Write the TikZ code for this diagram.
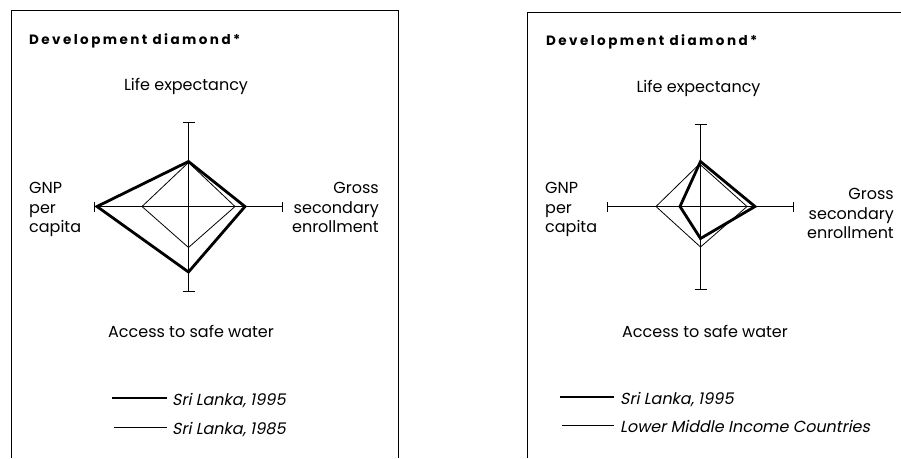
\documentclass[tikz,border=0pt]{standalone}
\usepackage{fontspec}
\setmainfont{Poppins}
\newfontfamily\titlefont{Poppins}[LetterSpace=18]
\newfontfamily\legfont{Poppins}[FakeSlant=0.2]
\begin{document}
\begin{tikzpicture}[x=1pt,y=-1pt,
  frame/.style={line width=0.9pt,black},
  axis/.style={line width=0.8pt,black},
  thickline/.style={line width=2.8pt,line join=miter,black},
  thinline/.style={line width=0.8pt,line join=miter,black},
  title/.style={anchor=base west,inner sep=0pt,font=\titlefont\bfseries\fontsize{13.5}{16}\selectfont},
  lab/.style={inner sep=0pt,font=\fontsize{16}{19}\selectfont},
  leg/.style={anchor=base west,inner sep=0pt,font=\legfont\fontsize{16}{19}\selectfont}]
\useasboundingbox (0,0) rectangle (901,458);
% frames
\coordinate (f1a) at (11,458); \coordinate (f1b) at (11,10);
\coordinate (f1c) at (398,10); \coordinate (f1d) at (398,458);
\draw[frame] (f1a) -- (f1b) -- (f1c) -- (f1d);
\coordinate (f2a) at (527,458); \coordinate (f2b) at (527,12);
\coordinate (f2c) at (901,12);
\draw[frame] (f2a) -- (f2b) -- (f2c);

% ===== left panel =====
\node[title] (t1) at (29,44) {Development diamond*};
\node[lab,anchor=base] (le1) at (186,90) {Life expectancy};
\node[lab,anchor=base west] (g1a) at (29,193) {GNP};
\node[lab,anchor=base west] (g1b) at (29,213) {per};
\node[lab,anchor=base west] (g1c) at (29,232) {capita};
\node[lab,anchor=base east] (s1a) at (379,193) {Gross};
\node[lab,anchor=base east] (s1b) at (379,213) {secondary};
\node[lab,anchor=base east] (s1c) at (379,232) {enrollment};
\node[lab,anchor=base] (w1) at (191,337) {Access to safe water};

\coordinate (c1) at (188.5,206.5);
\coordinate (a1t) at (188.5,122.5); \coordinate (a1b) at (188.5,291);
\coordinate (a1l) at (94.5,206.5);  \coordinate (a1r) at (282.5,206.5);
\draw[axis] (a1t) -- (a1b);
\draw[axis] (a1l) -- (a1r);
\draw[axis] ([xshift=-6pt]a1t) -- ([xshift=6pt]a1t);
\draw[axis] ([xshift=-6pt]a1b) -- ([xshift=6pt]a1b);
\draw[axis] ([yshift=-5pt]a1l) -- ([yshift=5pt]a1l);
\draw[axis] ([yshift=-5pt]a1r) -- ([yshift=5pt]a1r);

\coordinate (p1t) at (188.5,161.5); \coordinate (p1r) at (245,206.5);
\coordinate (p1b) at (188.5,272);   \coordinate (p1l) at (97,206.5);
\coordinate (q1t) at (188.5,162.5); \coordinate (q1r) at (235,206.5);
\coordinate (q1b) at (188.5,247.5); \coordinate (q1l) at (142,206.5);
\draw[thinline] (q1t) -- (q1r) -- (q1b) -- (q1l) -- cycle;
\draw[thickline] (p1t) -- (p1r) -- (p1b) -- (p1l) -- cycle;

\coordinate (k1a) at (112,398); \coordinate (k1b) at (167,398);
\draw[thickline] (k1a) -- (k1b);
\node[leg] (l1a) at (172,405) {Sri Lanka, 1995};
\coordinate (k1c) at (114,427); \coordinate (k1d) at (167,427);
\draw[thinline] (k1c) -- (k1d);
\node[leg] (l1b) at (172,434) {Sri Lanka, 1985};

% ===== right panel =====
\node[title] (t2) at (546,45) {Development diamond*};
\node[lab,anchor=base] (le2) at (698.5,92) {Life expectancy};
\node[lab,anchor=base west] (g2a) at (545,193) {GNP};
\node[lab,anchor=base west] (g2b) at (545,213) {per};
\node[lab,anchor=base west] (g2c) at (545,232) {capita};
\node[lab,anchor=base east] (s2a) at (894,199) {Gross};
\node[lab,anchor=base east] (s2b) at (894,219) {secondary};
\node[lab,anchor=base east] (s2c) at (894,238) {enrollment};
\node[lab,anchor=base] (w2) at (705,337) {Access to safe water};

\coordinate (c2) at (700.5,206.5);
\coordinate (a2t) at (700.5,124); \coordinate (a2b) at (700.5,289.5);
\coordinate (a2l) at (607,206.5); \coordinate (a2r) at (793,206.5);
\draw[axis] (a2t) -- (a2b);
\draw[axis] (a2l) -- (a2r);
\draw[axis] ([xshift=-6pt]a2t) -- ([xshift=6pt]a2t);
\draw[axis] ([xshift=-6pt]a2b) -- ([xshift=6pt]a2b);
\draw[axis] ([yshift=-5pt]a2l) -- ([yshift=5pt]a2l);
\draw[axis] ([yshift=-5pt]a2r) -- ([yshift=5pt]a2r);

\coordinate (p2t) at (700.5,161.5); \coordinate (p2r) at (755,206.5);
\coordinate (p2b) at (700.5,238.5); \coordinate (p2l) at (680,206.5);
\coordinate (q2t) at (699.5,164);   \coordinate (q2r) at (747,206.5);
\coordinate (q2b) at (700.5,247);   \coordinate (q2l) at (656,206.5);
\draw[thinline] (q2t) -- (q2r) -- (q2b) -- (q2l) -- cycle;
\draw[thickline] (p2t) -- (p2r) -- (p2b) -- (p2l) -- cycle;

\coordinate (k2a) at (560,397); \coordinate (k2b) at (614,397);
\draw[thickline] (k2a) -- (k2b);
\node[leg] (l2a) at (620,404) {Sri Lanka, 1995};
\coordinate (k2c) at (562,425); \coordinate (k2d) at (614,425);
\draw[thinline] (k2c) -- (k2d);
\node[leg] (l2b) at (620,432) {Lower Middle Income Countries};
\end{tikzpicture}
\end{document}
